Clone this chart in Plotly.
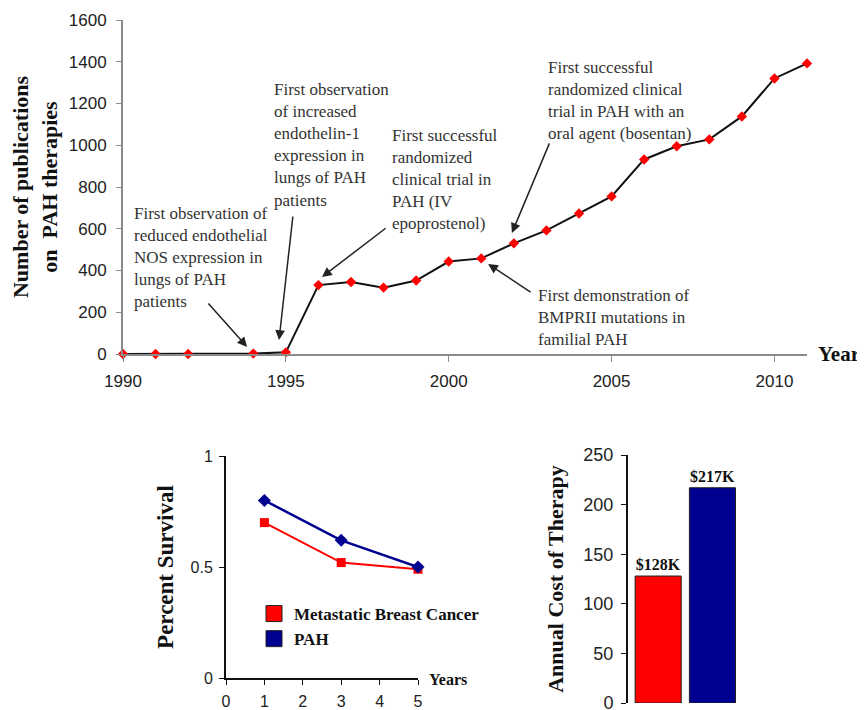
import plotly.graph_objects as go

# ---------------- data ----------------
years = [1990, 1991, 1992, 1994, 1995, 1996, 1997, 1998, 1999, 2000, 2001,
         2002, 2003, 2004, 2005, 2006, 2007, 2008, 2009, 2010, 2011]
publications = [0, 0, 0, 2, 8, 330, 345, 318, 352, 443, 458,
                530, 592, 673, 755, 932, 995, 1028, 1138, 1320, 1392]

surv_years = [1, 3, 5]
surv_breast = [0.70, 0.52, 0.49]
surv_pah = [0.80, 0.62, 0.50]

cost_groups = ["Metastatic Breast Cancer", "PAH"]
cost_values = [128, 217]
cost_labels = ["$128K", "$217K"]

SERIF = "Liberation Serif, Times New Roman, serif"
SANS = "Liberation Sans, Arial, sans-serif"
W, H = 865, 710
OFF = 8  # page body margin
RED = "#ff0000"
NAVY = "#000090"


def px(x):
    return (x - OFF) / W


def py(y):
    return 1 - (y - OFF) / H


fig = go.Figure()

# ---------- top: publications ----------
fig.add_trace(go.Scatter(
    x=years, y=publications, mode="lines+markers",
    line=dict(color="#111111", width=2),
    marker=dict(symbol="diamond", size=8, color=RED),
    cliponaxis=False, showlegend=False, xaxis="x", yaxis="y"))

# ---------- bottom-left: survival ----------
fig.add_trace(go.Scatter(
    x=surv_years, y=surv_breast, mode="lines+markers",
    line=dict(color=RED, width=2),
    marker=dict(symbol="square", size=9, color=RED),
    cliponaxis=False, showlegend=False, xaxis="x2", yaxis="y2"))
fig.add_trace(go.Scatter(
    x=surv_years, y=surv_pah, mode="lines+markers",
    line=dict(color=NAVY, width=2.5),
    marker=dict(symbol="diamond", size=10, color=NAVY),
    cliponaxis=False, showlegend=False, xaxis="x2", yaxis="y2"))
# legend entries (square swatches)
for name, col in zip(cost_groups, [RED, NAVY]):
    fig.add_trace(go.Scatter(
        x=[None], y=[None], mode="markers", name="<b>" + name + "</b>",
        marker=dict(symbol="square", size=17, color=col,
                    line=dict(color="#222222", width=1)),
        xaxis="x2", yaxis="y2"))

# ---------- bottom-right: cost ----------
fig.add_trace(go.Bar(
    x=cost_groups, y=cost_values, text=["<b>" + t + "</b>" for t in cost_labels],
    textposition="outside", cliponaxis=False,
    textfont=dict(family=SERIF, size=16, color="#111111"),
    marker=dict(color=[RED, NAVY], line=dict(color="#222222", width=1)),
    width=0.85, showlegend=False, xaxis="x3", yaxis="y3"))


def ax_common(size, standoff):
    return dict(showgrid=False, zeroline=False, showline=True, automargin=False,
                ticks="outside", ticklabelstandoff=standoff,
                tickfont=dict(family=SANS, size=size, color="#222222"))


fig.update_layout(
    width=W, height=H,
    margin=dict(l=0, r=0, t=0, b=0),
    paper_bgcolor="white", plot_bgcolor="white",
    xaxis=dict(domain=[px(123), px(807)], range=[1990, 2011],
               tickvals=[1990, 1995, 2000, 2005, 2010], ticklen=6,
               linecolor="#8a8a8a", linewidth=2, tickcolor="#8a8a8a",
               anchor="y", **ax_common(17, 5)),
    yaxis=dict(domain=[py(354), py(20)], range=[0, 1600], dtick=200,
               ticklen=5, linecolor="#8a8a8a", linewidth=2, tickcolor="#8a8a8a",
               title=dict(text="<b>Number of publications</b><br><b>on  PAH therapies</b>",
                          font=dict(family=SERIF, size=22, color="#111111"),
                          standoff=12),
               anchor="x", **ax_common(17, 6)),
    xaxis2=dict(domain=[px(226), px(418)], range=[0, 5], dtick=1, ticklen=5,
                linecolor="#111111", linewidth=2, tickcolor="#111111",
                anchor="y2", **ax_common(16, 3)),
    yaxis2=dict(domain=[py(678), py(456)], range=[0, 1], tickvals=[0, 0.5, 1],
                ticklen=5, linecolor="#111111", linewidth=2, tickcolor="#111111",
                title=dict(text="<b>Percent Survival</b>",
                           font=dict(family=SERIF, size=23, color="#111111"),
                           standoff=10),
                anchor="x2", **ax_common(16, 3)),
    xaxis3=dict(domain=[px(628), px(745)], range=[-0.556, 1.6],
                showticklabels=False, showline=False, showgrid=False,
                zeroline=False, ticks="", anchor="y3", automargin=False),
    yaxis3=dict(domain=[py(703), py(455)], range=[0, 250], dtick=50,
                ticklen=5, linecolor="#111111", linewidth=2, tickcolor="#111111",
                title=dict(text="<b>Annual Cost of Therapy</b>",
                           font=dict(family=SERIF, size=22, color="#111111"),
                           standoff=14),
                anchor="x3", **ax_common(18, 4)),
    legend=dict(x=px(254), y=py(596), xanchor="left", yanchor="top",
                bgcolor="rgba(0,0,0,0)", tracegroupgap=0,
                font=dict(family=SERIF, size=17, color="#111111")),
)

ann_font = dict(family=SERIF, size=17, color="#333333")
texts = [
    ("First observation of<br>reduced endothelial<br>NOS expression in<br>lungs of PAH<br>patients", 132, 202),
    ("First observation<br>of increased<br>endothelin-1<br>expression in<br>lungs of PAH<br>patients", 272, 78),
    ("First successful<br>randomized<br>clinical trial in<br>PAH (IV<br>epoprostenol)", 390, 124),
    ("First successful<br>randomized clinical<br>trial in PAH with an<br>oral agent (bosentan)", 546, 56),
    ("First demonstration of<br>BMPRII mutations in<br>familial PAH", 536, 284),
]
for t, x0, y0 in texts:
    fig.add_annotation(text=t, xref="paper", yref="paper", x=px(x0), y=py(y0),
                       xanchor="left", yanchor="top", align="left",
                       showarrow=False, font=ann_font)

# arrows: (tail_x, tail_y, head_x, head_y) in data coordinates of the top chart
arrows = [
    (1992.58, 249, 1993.81, 34),
    (1995.22, 666, 1994.79, 67),
    (1998.11, 608, 1996.11, 369),
    (2003.11, 1016, 2001.94, 580),
    (2002.56, 292, 2001.21, 431),
]
for tx, ty, hx, hy in arrows:
    fig.add_annotation(text="", x=hx, y=hy, xref="x", yref="y",
                       ax=tx, ay=ty, axref="x", ayref="y",
                       showarrow=True, arrowhead=2, arrowsize=1.3,
                       arrowwidth=1.5, arrowcolor="#222222")

fig.add_annotation(text="<b>Year</b>", xref="paper", yref="paper",
                   x=px(816), y=py(354), xanchor="left", yanchor="middle",
                   showarrow=False, font=dict(family=SERIF, size=21, color="#111111"))
fig.add_annotation(text="<b>Years</b>", xref="paper", yref="paper",
                   x=px(427), y=py(679), xanchor="left", yanchor="middle",
                   showarrow=False, font=dict(family=SERIF, size=16, color="#111111"))

fig.write_html("out.html")
